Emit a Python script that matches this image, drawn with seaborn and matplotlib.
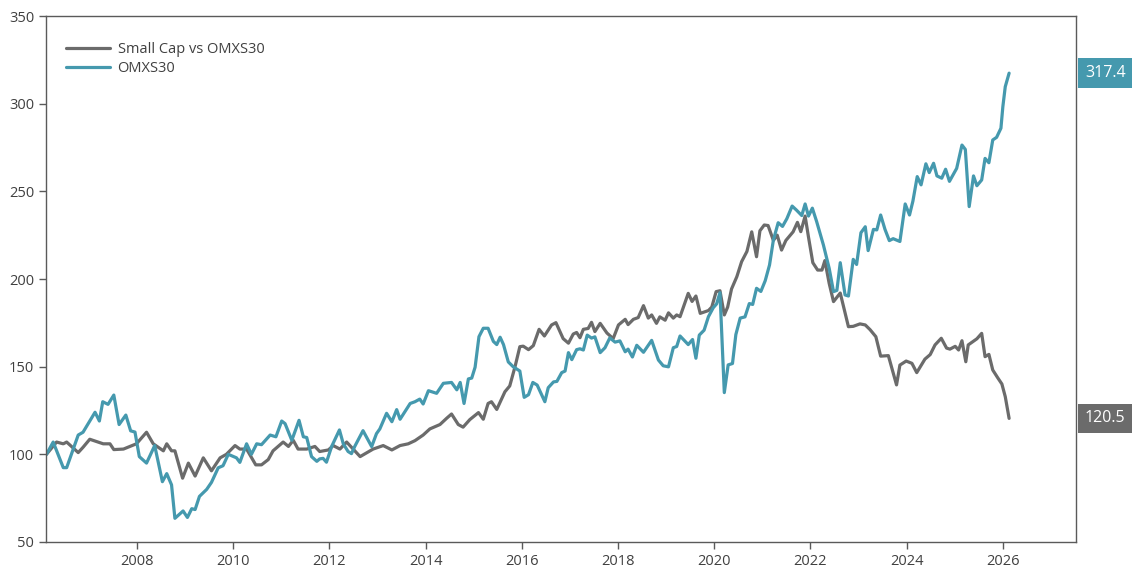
import pandas as pd
import matplotlib
matplotlib.use("Agg")
import matplotlib.pyplot as plt
import seaborn as sns

# Small Cap vs OMXS30 (relative index)
small_cap_years = [
    2006.12, 2006.33, 2006.47, 2006.54, 2006.78, 2006.88, 2007.02, 2007.30, 2007.44, 2007.52,
    2007.72, 2007.99, 2008.20, 2008.34, 2008.55, 2008.62, 2008.72, 2008.79, 2008.95, 2009.07,
    2009.21, 2009.38, 2009.55, 2009.73, 2009.86, 2010.04, 2010.14, 2010.28, 2010.47, 2010.59,
    2010.73, 2010.83, 2011.04, 2011.15, 2011.25, 2011.35, 2011.53, 2011.70, 2011.80, 2011.98,
    2012.08, 2012.22, 2012.36, 2012.64, 2012.91, 2013.12, 2013.30, 2013.47, 2013.64, 2013.78,
    2013.95, 2014.09, 2014.30, 2014.44, 2014.54, 2014.68, 2014.78, 2014.92, 2015.10, 2015.20,
    2015.30, 2015.37, 2015.48, 2015.65, 2015.75, 2015.86, 2015.96, 2016.03, 2016.14, 2016.24,
    2016.36, 2016.47, 2016.62, 2016.71, 2016.86, 2016.97, 2017.07, 2017.14, 2017.21, 2017.28,
    2017.38, 2017.45, 2017.52, 2017.63, 2017.77, 2017.90, 2018.01, 2018.15, 2018.21, 2018.32,
    2018.42, 2018.53, 2018.63, 2018.70, 2018.80, 2018.87, 2018.98, 2019.05, 2019.15, 2019.22,
    2019.29, 2019.46, 2019.54, 2019.62, 2019.71, 2019.88, 2019.95, 2020.04, 2020.12, 2020.21,
    2020.28, 2020.36, 2020.47, 2020.57, 2020.68, 2020.78, 2020.88, 2020.95, 2021.04, 2021.12,
    2021.23, 2021.31, 2021.40, 2021.49, 2021.64, 2021.73, 2021.80, 2021.89, 2021.96, 2022.05,
    2022.15, 2022.24, 2022.30, 2022.39, 2022.48, 2022.62, 2022.79, 2022.89, 2023.03, 2023.14,
    2023.24, 2023.36, 2023.46, 2023.62, 2023.79, 2023.86, 2023.99, 2024.11, 2024.21, 2024.38,
    2024.49, 2024.59, 2024.72, 2024.83, 2024.90, 2025.01, 2025.08, 2025.15, 2025.23, 2025.28,
    2025.46, 2025.56, 2025.63, 2025.71, 2025.79, 2025.89, 2025.98, 2026.05, 2026.13,
]
small_cap_values = [
    100.0, 107.0, 106.0, 107.0, 101.0, 104.0, 108.6, 106.0, 106.0, 102.7,
    103.0, 106.0, 112.6, 106.0, 102.0, 106.0, 102.0, 102.0, 86.4, 95.0,
    87.6, 98.0, 90.6, 98.0, 100.0, 105.0, 103.0, 103.0, 94.0, 94.0,
    97.0, 102.0, 107.0, 104.5, 108.0, 103.0, 103.0, 104.5, 101.6, 102.5,
    105.0, 103.0, 107.0, 98.7, 103.0, 105.0, 102.5, 105.0, 106.0, 107.8,
    111.0, 114.5, 117.0, 120.6, 123.0, 117.0, 115.5, 119.8, 123.8, 120.0,
    129.0, 130.0, 125.6, 135.7, 139.0, 150.0, 161.4, 161.7, 159.7, 162.0,
    171.3, 167.5, 173.8, 175.1, 166.0, 163.4, 168.6, 169.5, 166.5, 171.3,
    171.8, 175.3, 170.0, 174.7, 169.2, 166.0, 173.8, 177.0, 174.0, 177.0,
    178.0, 184.8, 177.7, 179.5, 174.7, 178.4, 176.5, 180.7, 177.7, 179.5,
    178.5, 191.8, 187.2, 190.3, 180.4, 182.0, 184.0, 192.8, 193.3, 179.5,
    184.0, 194.3, 201.3, 209.9, 215.7, 226.9, 212.7, 227.5, 230.8, 230.5,
    222.0, 225.0, 216.5, 222.0, 226.9, 232.3, 227.0, 235.9, 223.9, 209.3,
    205.1, 205.1, 210.5, 197.5, 187.1, 192.0, 172.8, 173.0, 174.4, 173.8,
    171.1, 167.1, 156.0, 156.3, 139.6, 150.9, 153.2, 151.9, 146.6, 154.3,
    156.9, 162.4, 166.2, 160.6, 160.0, 161.6, 159.5, 164.8, 152.8, 162.4,
    165.9, 169.0, 155.7, 157.0, 148.1, 143.8, 140.1, 132.9, 120.5,
]

# OMXS30 index
omx_years = [
    2006.12, 2006.26, 2006.47, 2006.54, 2006.78, 2006.88, 2007.13, 2007.22, 2007.29, 2007.40,
    2007.52, 2007.63, 2007.77, 2007.87, 2007.96, 2008.05, 2008.20, 2008.37, 2008.53, 2008.62,
    2008.72, 2008.79, 2008.96, 2009.05, 2009.14, 2009.21, 2009.30, 2009.45, 2009.55, 2009.69,
    2009.79, 2009.90, 2010.07, 2010.14, 2010.28, 2010.38, 2010.49, 2010.59, 2010.77, 2010.89,
    2011.01, 2011.08, 2011.22, 2011.37, 2011.46, 2011.53, 2011.63, 2011.74, 2011.80, 2011.87,
    2011.94, 2012.05, 2012.21, 2012.29, 2012.39, 2012.46, 2012.53, 2012.70, 2012.88, 2012.98,
    2013.05, 2013.19, 2013.30, 2013.40, 2013.47, 2013.68, 2013.78, 2013.88, 2013.95, 2014.06,
    2014.23, 2014.37, 2014.54, 2014.65, 2014.72, 2014.80, 2014.89, 2014.96, 2015.03, 2015.11,
    2015.20, 2015.30, 2015.41, 2015.48, 2015.55, 2015.62, 2015.72, 2015.82, 2015.96, 2016.05,
    2016.14, 2016.23, 2016.32, 2016.48, 2016.55, 2016.66, 2016.73, 2016.83, 2016.90, 2016.97,
    2017.04, 2017.14, 2017.21, 2017.28, 2017.36, 2017.45, 2017.52, 2017.63, 2017.73, 2017.83,
    2017.94, 2018.04, 2018.15, 2018.21, 2018.30, 2018.39, 2018.53, 2018.70, 2018.84, 2018.94,
    2019.05, 2019.15, 2019.22, 2019.29, 2019.46, 2019.55, 2019.62, 2019.69, 2019.79, 2019.88,
    2019.98, 2020.05, 2020.12, 2020.21, 2020.29, 2020.38, 2020.45, 2020.54, 2020.64, 2020.73,
    2020.80, 2020.88, 2020.97, 2021.06, 2021.15, 2021.23, 2021.33, 2021.42, 2021.51, 2021.62,
    2021.71, 2021.82, 2021.89, 2021.96, 2022.04, 2022.13, 2022.27, 2022.39, 2022.48, 2022.55,
    2022.62, 2022.72, 2022.79, 2022.89, 2022.96, 2023.05, 2023.14, 2023.20, 2023.31, 2023.38,
    2023.46, 2023.55, 2023.64, 2023.72, 2023.86, 2023.97, 2024.06, 2024.13, 2024.22, 2024.30,
    2024.40, 2024.47, 2024.56, 2024.63, 2024.73, 2024.81, 2024.89, 2025.04, 2025.15, 2025.22,
    2025.30, 2025.39, 2025.46, 2025.56, 2025.63, 2025.71, 2025.79, 2025.87, 2025.96, 2026.00,
    2026.05, 2026.13,
]
omx_values = [
    100.0, 107.0, 92.4, 92.4, 111.0, 112.6, 124.0, 119.0, 130.0, 128.5,
    133.8, 117.0, 122.4, 113.4, 112.7, 98.7, 95.0, 105.0, 84.4, 89.0,
    82.6, 63.5, 67.7, 64.0, 69.0, 68.5, 76.0, 80.0, 84.0, 92.3,
    93.5, 100.0, 98.0, 95.4, 106.0, 100.0, 106.0, 105.5, 111.0, 110.0,
    119.0, 117.5, 108.0, 119.4, 110.0, 109.6, 98.7, 96.0, 97.4, 97.7,
    95.5, 104.6, 113.9, 106.0, 101.6, 100.4, 104.6, 113.5, 104.4, 111.8,
    114.5, 123.4, 118.6, 125.5, 120.0, 129.0, 130.0, 131.5, 128.7, 136.3,
    134.8, 140.5, 141.0, 136.8, 141.0, 129.0, 143.0, 143.5, 149.7, 167.1,
    171.9, 171.9, 164.4, 162.6, 166.8, 162.6, 152.7, 150.0, 147.5, 132.5,
    134.0, 141.0, 139.5, 130.0, 138.0, 141.3, 141.6, 146.6, 147.5, 158.0,
    154.0, 159.7, 160.2, 159.5, 168.0, 166.3, 167.0, 158.0, 160.8, 166.4,
    164.0, 164.7, 158.5, 160.0, 155.5, 162.2, 158.2, 165.0, 153.8, 150.5,
    149.9, 160.8, 161.5, 167.5, 162.6, 165.5, 154.8, 168.0, 170.8, 178.5,
    183.6, 185.8, 192.2, 135.2, 151.0, 151.8, 168.3, 177.7, 178.4, 186.0,
    185.5, 194.7, 192.9, 199.0, 208.0, 222.2, 232.1, 230.0, 234.4, 241.6,
    239.3, 236.2, 242.8, 235.9, 240.4, 232.7, 219.4, 206.1, 192.8, 193.5,
    209.3, 190.9, 190.3, 211.2, 208.3, 226.4, 229.8, 216.2, 228.3, 228.0,
    236.5, 228.3, 221.9, 223.0, 221.4, 242.8, 236.5, 244.4, 258.4, 253.7,
    265.7, 260.7, 266.0, 258.8, 257.5, 262.6, 255.7, 263.1, 276.4, 273.9,
    241.3, 258.8, 253.2, 256.5, 268.8, 266.3, 279.3, 280.8, 286.0, 298.3,
    309.7, 317.4,
]

series_names = ["Small Cap vs OMXS30", "OMXS30"]
series_colors = ["#6b6b6b", "#4599ae"]
last_labels = ["120.5", "317.4"]
x_ticks = list(range(2008, 2027, 2))
y_ticks = list(range(50, 351, 50))

df = pd.concat([
    pd.DataFrame({"year": small_cap_years, "value": small_cap_values, "series": series_names[0]}),
    pd.DataFrame({"year": omx_years, "value": omx_values, "series": series_names[1]}),
], ignore_index=True)

sns.set_style("white")
plt.rcParams["font.family"] = ["Open Sans", "DejaVu Sans"]

fig = plt.figure(figsize=(11.38, 5.78), dpi=100)
ax = fig.add_axes([0.0404, 0.0623, 0.9051, 0.91])

sns.lineplot(data=df, x="year", y="value", hue="series", hue_order=series_names,
             palette=series_colors, estimator=None, sort=False, linewidth=2.3, ax=ax)

ax.set_xlim(2006.11, 2027.52)
ax.set_ylim(50, 350)
ax.set_xticks(x_ticks)
ax.set_yticks(y_ticks)
ax.set_xlabel("")
ax.set_ylabel("")

for side in ["left", "bottom", "top", "right"]:
    ax.spines[side].set_color("#5a5a5a")
    ax.spines[side].set_linewidth(1.0)
ax.tick_params(axis="both", direction="out", length=5, width=1, color="#5a5a5a",
               labelsize=10.5, labelcolor="#404040", bottom=True, left=True)

leg = ax.legend(loc="upper left", bbox_to_anchor=(0.01, 0.97), frameon=False,
                fontsize=10.5, handlelength=3.0, handletextpad=0.5,
                labelspacing=0.25, borderaxespad=0.3)
for txt in leg.get_texts():
    txt.set_color("#404040")

# value boxes on the right side
for name, color, label in zip(series_names, series_colors, last_labels):
    last_val = df.loc[df["series"] == name, "value"].iloc[-1]
    ax.annotate(label, xy=(1.0, last_val), xycoords=("axes fraction", "data"),
                xytext=(6.5, 0), textcoords="offset points", ha="left", va="center",
                fontsize=11.5, color="white", annotation_clip=False,
                bbox=dict(boxstyle="square,pad=0.42", facecolor=color, edgecolor="none"))

fig.savefig("out.png", dpi=100)
